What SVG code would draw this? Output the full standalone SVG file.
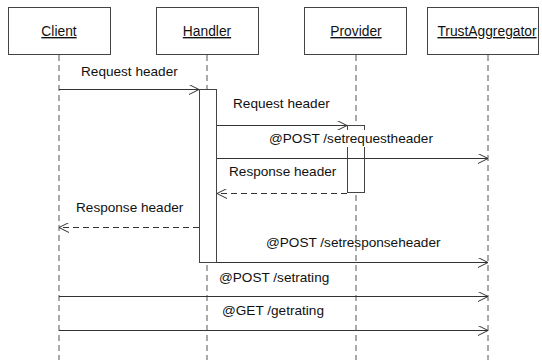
<svg xmlns="http://www.w3.org/2000/svg" width="542" height="360" viewBox="0 0 542 360">
<defs>
<style>
.box{fill:#fff;stroke:#444;stroke-width:1}
.life{stroke:#555;stroke-width:1;stroke-dasharray:6,4;fill:none}
.act{fill:#fff;stroke:#444;stroke-width:1}
.msg{stroke:#333;stroke-width:1;fill:none;marker-end:url(#ah)}
.ret{stroke:#333;stroke-width:1;fill:none;stroke-dasharray:6,4;marker-end:url(#ah)}
.t{font-family:"Liberation Sans",Arial,sans-serif;font-size:13.6px;fill:#111}
.n{font-family:"Liberation Sans",Arial,sans-serif;font-size:13.8px;fill:#111;text-anchor:middle;text-decoration:underline}
</style>
<marker id="ah" viewBox="0 0 10 10" refX="10" refY="5" markerWidth="10" markerHeight="10" markerUnits="userSpaceOnUse" orient="auto">
<path d="M0,0 L10,5 L0,10" fill="none" stroke="#333" stroke-width="1"/>
</marker>
</defs>
<rect width="542" height="360" fill="#fff"/>
<g id="lifelines">
<line class="life" x1="59" y1="55" x2="59" y2="360"/>
<line class="life" x1="207" y1="55" x2="207" y2="360"/>
<line class="life" x1="356" y1="55" x2="356" y2="360"/>
<line class="life" x1="488" y1="55" x2="488" y2="360"/>
</g>
<g id="client"><rect class="box" x="8.5" y="7.5" width="102" height="47"/><text class="n" x="59" y="36">Client</text></g>
<g id="handler"><rect class="box" x="156.5" y="7.5" width="102" height="47"/><text class="n" x="207" y="36">Handler</text></g>
<g id="provider"><rect class="box" x="304.5" y="7.5" width="102" height="47"/><text class="n" x="356" y="36">Provider</text></g>
<g id="trustaggregator"><rect class="box" x="427.5" y="7.5" width="111" height="47"/><text class="n" x="487" y="36">TrustAggregator</text></g>
<g id="activations">
<rect class="act" x="199.5" y="89.5" width="17" height="173"/>
<rect class="act" x="347.5" y="125.5" width="17" height="67"/>
</g>
<g id="connectors">
<line class="msg" x1="59" y1="89.5" x2="199" y2="89.5"/>
<text class="t" x="81" y="76">Request header</text>
<line class="msg" x1="217" y1="125.5" x2="347" y2="125.5"/>
<text class="t" x="233" y="108">Request header</text>
<line class="msg" x1="217" y1="158.5" x2="488" y2="158.5"/>
<rect x="266" y="130" width="172" height="17" fill="#fff"/>
<text class="t" x="269" y="143">@POST /setrequestheader</text>
<line class="ret" x1="347" y1="193.5" x2="217" y2="193.5"/>
<text class="t" x="229" y="176">Response header</text>
<line class="ret" x1="199" y1="227.5" x2="59" y2="227.5"/>
<text class="t" x="76" y="212">Response header</text>
<line class="msg" x1="217" y1="262.5" x2="488" y2="262.5"/>
<text class="t" x="266" y="247">@POST /setresponseheader</text>
<line class="msg" x1="59" y1="296.5" x2="488" y2="296.5"/>
<text class="t" x="219" y="282">@POST /setrating</text>
<line class="msg" x1="59" y1="330.5" x2="488" y2="330.5"/>
<text class="t" x="222" y="315">@GET /getrating</text>
</g>
</svg>
